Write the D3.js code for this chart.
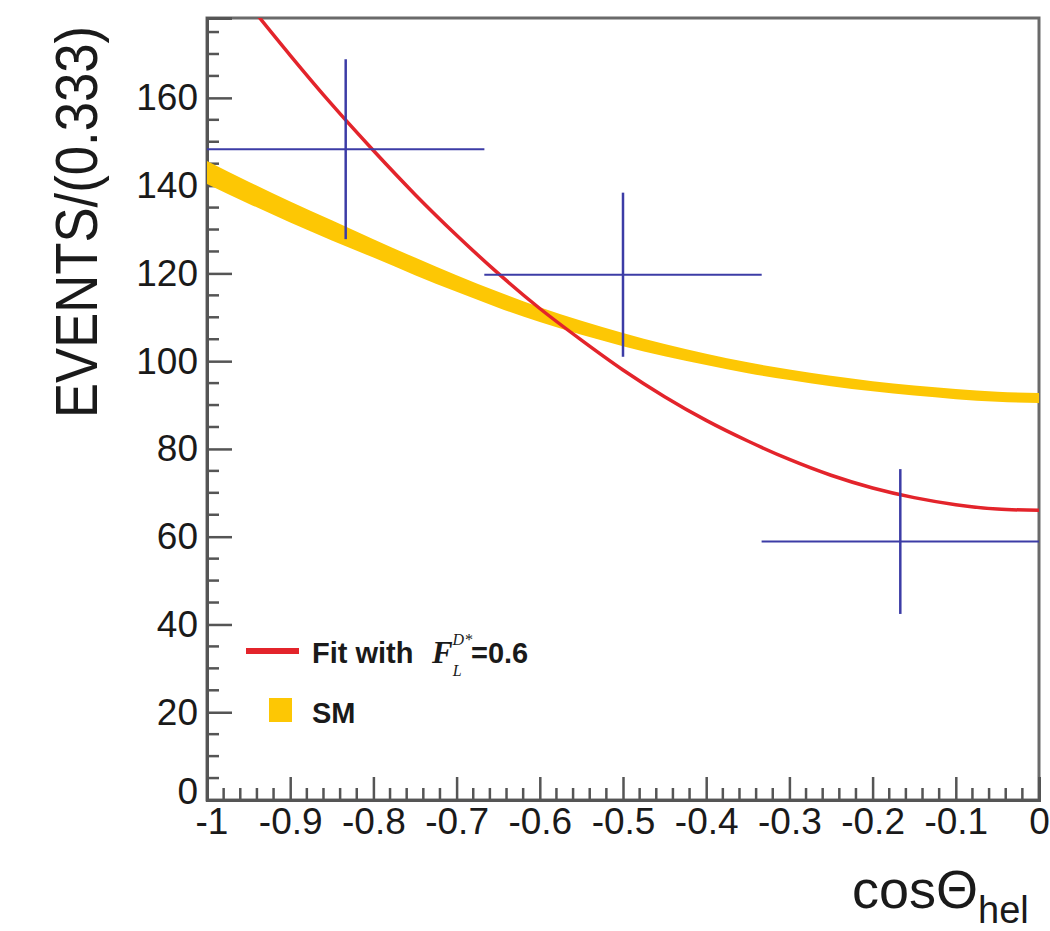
<!DOCTYPE html>
<html>
<head>
<meta charset="utf-8">
<script src="https://cdn.jsdelivr.net/npm/d3@7"></script>
<style>
  body { margin: 0; background: #fff; }
  svg { display: block; }
</style>
</head>
<body>
<div id="chart"></div>
<script>
// Data
let binX = [-0.8333, -0.5, -0.1667];
let binHalfWidth = [0.1667, 0.1667, 0.1667];
let binY = [148.3, 119.7, 58.9];
let binErr = [20.5, 18.7, 16.5];

let fitX = [-0.94, -0.9, -0.85, -0.8, -0.75, -0.7, -0.65, -0.6, -0.55, -0.5, -0.45, -0.4, -0.35, -0.3, -0.25, -0.2, -0.15, -0.1, -0.05, 0];
let fitY = [179, 169.7, 158.5, 148, 138, 128.7, 120, 112, 104.8, 98, 91.9, 86.5, 81.8, 77.6, 74.0, 71.1, 68.9, 67.3, 66.3, 66];

let smX = [-1, -0.95, -0.9, -0.85, -0.8, -0.75, -0.7, -0.65, -0.6, -0.55, -0.5, -0.45, -0.4, -0.35, -0.3, -0.25, -0.2, -0.15, -0.1, -0.05, 0];
let smMid = [143, 138.4, 134, 129.8, 125.7, 121.6, 117.7, 114, 110.6, 107.6, 104.9, 102.5, 100.4, 98.5, 96.9, 95.5, 94.3, 93.3, 92.5, 91.9, 91.6];
let smHalf = [2.6, 2.5, 2.4, 2.3, 2.1, 2.0, 1.9, 1.8, 1.7, 1.6, 1.5, 1.4, 1.3, 1.25, 1.2, 1.2, 1.15, 1.15, 1.15, 1.15, 1.15];

let xTicks = [-1, -0.9, -0.8, -0.7, -0.6, -0.5, -0.4, -0.3, -0.2, -0.1, 0];
let xTickLabels = ['-1', '-0.9', '-0.8', '-0.7', '-0.6', '-0.5', '-0.4', '-0.3', '-0.2', '-0.1', '0'];
let yTicks = [0, 20, 40, 60, 80, 100, 120, 140, 160];

// Dimensions
let svgWidth = 1050;
let svgHeight = 931;
let margins = { top: 18, left: 207, right: 11, bottom: 131 };
let chartWidth = svgWidth - margins.left - margins.right;
let chartHeight = svgHeight - margins.top - margins.bottom;

let svg = d3.select('#chart').append('svg')
    .attr('width', svgWidth)
    .attr('height', svgHeight);

let chart = svg.append('g')
    .attr('transform', `translate(${margins.left}, ${margins.top})`);

svg.append('defs').append('clipPath')
    .attr('id', 'plotClip')
    .append('rect')
    .attr('width', chartWidth)
    .attr('height', chartHeight);

let xScale = d3.scaleLinear().domain([-1, 0]).range([0, chartWidth]);
let yScale = d3.scaleLinear().domain([0, 178.2]).range([chartHeight, 0]);

let axisColor = '#555';
let textColor = '#1a1a1a';

// Frame
chart.append('rect')
    .attr('width', chartWidth)
    .attr('height', chartHeight)
    .attr('fill', 'none')
    .attr('stroke', '#6a6a6a')
    .attr('stroke-width', 3);

// Minor ticks
let yMinor = d3.range(0, 176, 5).filter(v => v % 20 !== 0);
chart.append('g').selectAll('line')
    .data(yMinor).enter().append('line')
    .attr('x1', 0).attr('x2', 12)
    .attr('y1', d => yScale(d)).attr('y2', d => yScale(d))
    .attr('stroke', axisColor).attr('stroke-width', 2.5);

let xMinor = d3.range(0, 51).map(i => -1 + i * 0.02).filter((v, i) => i % 5 !== 0);
chart.append('g').selectAll('line')
    .data(xMinor).enter().append('line')
    .attr('x1', d => xScale(d)).attr('x2', d => xScale(d))
    .attr('y1', chartHeight).attr('y2', chartHeight - 12)
    .attr('stroke', axisColor).attr('stroke-width', 2.5);

// Major axes
let yAxis = d3.axisLeft(yScale)
    .tickValues(yTicks)
    .tickSize(-25)
    .tickPadding(9)
    .tickFormat(d3.format('d'));
let yAxisTag = chart.append('g').call(yAxis);

let xAxis = d3.axisBottom(xScale)
    .tickValues(xTicks)
    .tickSize(-23)
    .tickPadding(8)
    .tickFormat((d, i) => xTickLabels[i]);
let xAxisTag = chart.append('g')
    .attr('transform', `translate(0, ${chartHeight})`)
    .call(xAxis);

[yAxisTag, xAxisTag].forEach(a => {
    a.select('.domain').attr('stroke', axisColor).attr('stroke-width', 3);
    a.selectAll('.tick line').attr('stroke', axisColor).attr('stroke-width', 2.5);
    a.selectAll('.tick text')
        .attr('fill', textColor)
        .style('font-family', '"Liberation Sans", Arial, sans-serif')
        .style('font-size', '37px');
});
// keep "0" on the y axis clear of "-1" below it
yAxisTag.selectAll('.tick text').filter(d => d === 0).attr('dy', '0.1em');
xAxisTag.selectAll('.tick text').filter(d => d === -1).attr('dx', '0.12em');

// SM band
let plotArea = chart.append('g').attr('clip-path', 'url(#plotClip)');
let smData = smX.map((x, i) => ({ x: x, lo: smMid[i] - smHalf[i], hi: smMid[i] + smHalf[i] }));
let band = d3.area()
    .x(d => xScale(d.x))
    .y0(d => yScale(d.lo))
    .y1(d => yScale(d.hi))
    .curve(d3.curveMonotoneX);
plotArea.append('path')
    .datum(smData)
    .attr('d', band)
    .attr('fill', '#fdc704');

// Fit curve
let fitData = fitX.map((x, i) => ({ x: x, y: fitY[i] }));
let fitLine = d3.line()
    .x(d => xScale(d.x))
    .y(d => yScale(d.y))
    .curve(d3.curveMonotoneX);
plotArea.append('path')
    .datum(fitData)
    .attr('d', fitLine)
    .attr('fill', 'none')
    .attr('stroke', '#e3242b')
    .attr('stroke-width', 3.5);

// Data points with error bars
let points = binX.map((x, i) => ({ x: x, hw: binHalfWidth[i], y: binY[i], e: binErr[i] }));
let pointGroup = plotArea.selectAll('g.pointGroup')
    .data(points).enter()
    .append('g')
    .attr('class', 'pointGroup');
pointGroup.append('line')
    .attr('x1', d => xScale(d.x - d.hw)).attr('x2', d => xScale(d.x + d.hw))
    .attr('y1', d => yScale(d.y)).attr('y2', d => yScale(d.y))
    .attr('stroke', '#3c3ca6').attr('stroke-width', 2);
pointGroup.append('line')
    .attr('x1', d => xScale(d.x)).attr('x2', d => xScale(d.x))
    .attr('y1', d => yScale(d.y - d.e)).attr('y2', d => yScale(d.y + d.e))
    .attr('stroke', '#3c3ca6').attr('stroke-width', 2.5);

// Axis titles
svg.append('text')
    .attr('transform', 'translate(97, 418) rotate(-90)')
    .attr('fill', textColor)
    .attr('textLength', 392)
    .attr('lengthAdjust', 'spacingAndGlyphs')
    .style('font-family', '"Liberation Sans", Arial, sans-serif')
    .style('font-size', '60px')
    .text('EVENTS/(0.333)');

let xTitle = svg.append('text')
    .attr('x', 852)
    .attr('y', 908)
    .attr('fill', textColor)
    .style('font-family', '"Liberation Sans", Arial, sans-serif')
    .style('font-size', '54px');
xTitle.append('tspan').text('cosΘ');
xTitle.append('tspan').attr('dy', 15).style('font-size', '38px').text('hel');

// Legend
let legend = svg.append('g');
legend.append('line')
    .attr('x1', 246).attr('x2', 299)
    .attr('y1', 651).attr('y2', 651)
    .attr('stroke', '#e3242b').attr('stroke-width', 6);
legend.append('text')
    .attr('x', 312).attr('y', 663)
    .attr('fill', textColor)
    .style('font-family', '"Liberation Sans", Arial, sans-serif')
    .style('font-weight', 'bold')
    .style('font-size', '29px')
    .text('Fit with');
let fitSymbol = legend.append('text')
    .attr('x', 432).attr('y', 663)
    .attr('fill', textColor)
    .style('font-family', '"Liberation Serif", "Times New Roman", serif')
    .style('font-style', 'italic');
fitSymbol.append('tspan')
    .style('font-weight', 'bold')
    .style('font-size', '31px')
    .text('F');
fitSymbol.append('tspan')
    .attr('dx', 0).attr('dy', 13)
    .style('font-size', '16px')
    .text('L');
fitSymbol.append('tspan')
    .attr('dx', -9).attr('dy', -31)
    .style('font-size', '16px')
    .text('D*');
legend.append('text')
    .attr('x', 471).attr('y', 663)
    .attr('fill', textColor)
    .style('font-family', '"Liberation Sans", Arial, sans-serif')
    .style('font-weight', 'bold')
    .style('font-size', '29px')
    .text('=0.6');

legend.append('rect')
    .attr('x', 269).attr('y', 698)
    .attr('width', 23).attr('height', 24)
    .attr('fill', '#fdc704');
legend.append('text')
    .attr('x', 312).attr('y', 723)
    .attr('fill', textColor)
    .style('font-family', '"Liberation Sans", Arial, sans-serif')
    .style('font-weight', 'bold')
    .style('font-size', '29px')
    .text('SM');
</script>
</body>
</html>
